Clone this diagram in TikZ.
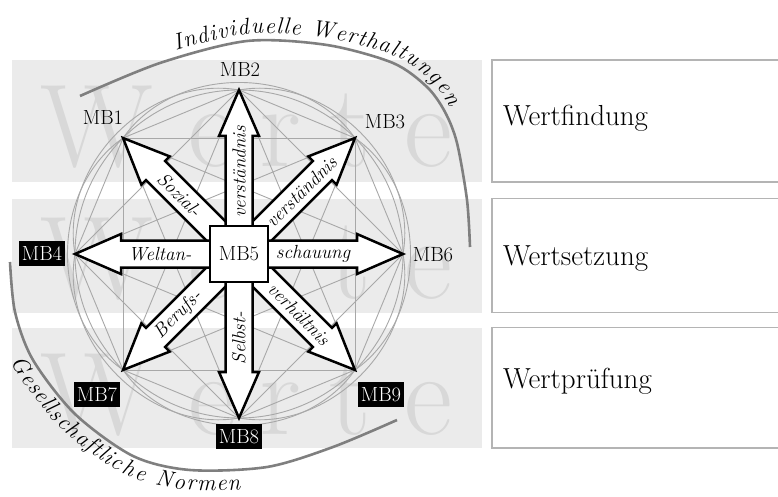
\documentclass[tikz,border=0pt]{standalone}
\usepackage{fontspec}
\usetikzlibrary{calc,decorations.text}

\definecolor{bandgray}{HTML}{EBEBEB}
\definecolor{markgray}{HTML}{D8D8D8}
\definecolor{netgray}{HTML}{A8A8A8}
\definecolor{arcgray}{HTML}{7F7F7F}
\definecolor{boxline}{HTML}{B4B4B4}

\newcommand\mbfont{\fontsize{20.5}{21}\selectfont}
\newcommand\flowfont{\itshape\fontsize{19}{20}\selectfont}
\newcommand\curvefont{\itshape\fontsize{23}{24}\selectfont}
\newcommand\wmfont{\fontsize{118}{118}\selectfont}
\newcommand\stagefont{\fontsize{29}{31}\selectfont}

% broad block arrow from #1 to the tip #2
\newcommand\fatarrow[2]{%
  \draw[fatarrow]
    ($(#1)!13.5pt!90:(#2)$)
    -- ($(#2)!46pt!(#1)!13.5pt!90:(#2)$)
    -- ($(#2)!46pt!(#1)!20pt!90:(#2)$)
    -- (#2)
    -- ($(#2)!46pt!(#1)!20pt!-90:(#2)$)
    -- ($(#2)!46pt!(#1)!13.5pt!-90:(#2)$)
    -- ($(#1)!13.5pt!-90:(#2)$)
    -- cycle;}

\begin{document}
\begin{tikzpicture}[x=1pt,y=1pt,
  net/.style={draw=netgray, line width=0.9pt},
  fatarrow/.style={draw=black, fill=white, line width=2.5pt, line join=miter, miter limit=20},
  hub/.style={draw=black, fill=white, line width=2.5pt, minimum width=58pt,
    minimum height=56pt, inner sep=0pt, font=\mbfont},
  mblabel/.style={inner xsep=3pt, inner ysep=5.5pt, text height=14pt,
    text depth=0pt, font=\mbfont},
  mbdark/.style={mblabel, fill=black, text=white},
  flow/.style={font=\flowfont, inner sep=0pt},
  wmletter/.style={font=\wmfont, text=markgray, inner sep=0pt, anchor=base},
  band/.style={fill=bandgray},
  stagebox/.style={draw=boxline, line width=1.2pt, fill=white},
  stagetext/.style={font=\stagefont, anchor=base west, inner sep=0pt},
  bigarc/.style={draw=arcgray, line width=2.6pt}
]
\useasboundingbox (0,0) rectangle (778,496);

% grey bands with the faint word in each
\fill[band] (12,314) rectangle (482,436);
\fill[band] (12,183.5) rectangle (482,297.5);
\fill[band] (12,48) rectangle (482,168.5);
\foreach \base [count=\k] in {329,198,62} {
  \foreach \ch/\xx [count=\m] in {W/97, e/212, r/280, t/350, e/428}
    \node[wmletter] (wm-\k-\m) at (\xx,\base) {\ch};
}

% stage boxes on the right
\draw[stagebox] (492,314) rectangle (779,436);
\draw[stagebox] (492,183.5) rectangle (779,297.5);
\draw[stagebox] (492,48) rectangle (779,168.5);
\node[stagetext] (find) at (503,370) {Wertfindung};
\node[stagetext] (set)  at (503,231) {Wertsetzung};
\node[stagetext] (test) at (503,108) {Wertprüfung};

% the eight outer points on a circle round the hub
\coordinate (C) at (239,242);
\coordinate (t2) at ($(C)+(90:164)$);
\coordinate (t3) at ($(C)+(45:164)$);
\coordinate (t6) at ($(C)+(0:164)$);
\coordinate (t9) at ($(C)+(-45:164)$);
\coordinate (t8) at ($(C)+(-90:164)$);
\coordinate (t7) at ($(C)+(-135:164)$);
\coordinate (t4) at ($(C)+(180:164)$);
\coordinate (t1) at ($(C)+(135:164)$);

% grey network: circle, every chord, and arcs over each second point
\draw[net] (C) circle[radius=164];
\foreach \a [count=\i] in {t1,t2,t3,t6,t9,t8,t7,t4} {
  \foreach \b [count=\j] in {t1,t2,t3,t6,t9,t8,t7,t4} {
    \ifnum\i<\j \draw[net] (\a) -- (\b); \fi
  }
}
\foreach \a/\b in {t1/t3, t3/t9, t9/t7, t7/t1, t2/t6, t6/t8, t8/t4, t4/t2}
  \draw[net] (\a) to[bend left=55] (\b);

% block arrows from the hub
\fatarrow{C}{t1}
\fatarrow{C}{t3}
\fatarrow{C}{t7}
\fatarrow{C}{t9}
\fatarrow{C}{t2}
\fatarrow{C}{t8}
\fatarrow{C}{t4}
\fatarrow{C}{t6}

\node[hub] (MB5) at (C) {MB5};

% words inside the arrows
\node[flow, rotate=90]  (f2) at ($(C)+(90:82)$)   {verständnis};
\node[flow, rotate=45]  (f3) at ($(C)+(45:88)$)   {verständnis};
\node[flow, rotate=-45] (f1) at ($(C)+(135:84)$)  {Sozial-};
\node[flow]             (f4) at ($(C)+(180:79)$)  {Weltan-};
\node[flow]             (f6) at ($(C)+(0:74)$)    {schauung};
\node[flow, rotate=45]  (f7) at ($(C)+(-135:86)$) {Berufs-};
\node[flow, rotate=90]  (f8) at ($(C)+(-90:84)$)  {Selbst-};
\node[flow, rotate=-45] (f9) at ($(C)+(-45:85)$)  {verhältnis};

% point labels
\node[mblabel] (MB1) at (103,378) {MB1};
\node[mblabel] (MB2) at (240,426) {MB2};
\node[mblabel] (MB3) at (385,374) {MB3};
\node[mblabel] (MB6) at (433,242) {MB6};
\node[mbdark]  (MB4) at (42,243)  {MB4};
\node[mbdark]  (MB7) at (97,102)  {MB7};
\node[mbdark]  (MB9) at (381,102) {MB9};
\node[mbdark]  (MB8) at (239,60)  {MB8};

% curved captions
\draw[bigarc] plot[smooth] coordinates {(80,400) (160,433) (247,455) (327,451)
  (393,433) (427,409) (445,384) (457,353) (467,296) (470,249)};
\path[decorate, decoration={text along path,
    text={|\curvefont|Individuelle Werthaltungen},
    text align={left indent=105pt, right indent=140pt, fit to path},
    raise=7pt}]
  plot[smooth] coordinates {(80,400) (160,433) (247,455) (327,451)
  (393,433) (427,409) (445,384) (457,353) (467,296) (470,249)};

\draw[bigarc] plot[smooth] coordinates {(10,234) (15,184) (33,136) (75,82)
  (133,40) (190,26) (267,29) (333,49) (397,76)};
\path[decorate, decoration={text along path,
    text={|\curvefont|Gesellschaftliche Normen},
    text align={left indent=92pt, right indent=166pt, fit to path},
    raise=-20pt}]
  plot[smooth] coordinates {(10,234) (15,184) (33,136) (75,82)
  (133,40) (190,26) (267,29) (333,49) (397,76)};
\end{tikzpicture}
\end{document}
